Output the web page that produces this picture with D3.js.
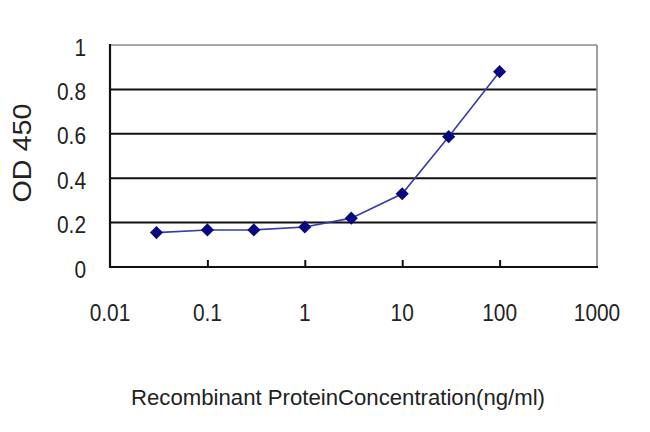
<!DOCTYPE html>
<html><head><meta charset="utf-8">
<script src="https://cdn.jsdelivr.net/npm/d3@7"></script>
<style>body{margin:0;background:#fff;} svg{display:block;font-family:Arial,"Liberation Sans",sans-serif;}</style>
</head><body>
<svg id="c" width="650" height="432"></svg>
<script>
const concentrations = [0.03, 0.1, 0.3, 1, 3, 10, 30, 100];
const odValues = [0.155, 0.167, 0.167, 0.18, 0.22, 0.33, 0.587, 0.88];
const xTicks = [0.01, 0.1, 1, 10, 100, 1000];
const xTickLabels = ["0.01", "0.1", "1", "10", "100", "1000"];
const yTicks = [0, 0.2, 0.4, 0.6, 0.8, 1];
const yTickLabels = ["0", "0.2", "0.4", "0.6", "0.8", "1"];
const xTitle = "Recombinant ProteinConcentration(ng/ml)";
const yTitle = "OD 450";

const svg = d3.select("#c");
const L = 110, R = 597, T = 45, B = 267;
const x = d3.scaleLog().domain([0.01, 1000]).range([L, R]);
const y = d3.scaleLinear().domain([0, 1]).range([B, T]);

// gridlines
svg.append("g").selectAll("line").data(yTicks.filter(v => v > 0 && v < 1)).join("line")
  .attr("x1", L).attr("x2", R).attr("y1", d => y(d)).attr("y2", d => y(d))
  .attr("stroke", "#111").attr("stroke-width", 2);

// top & right border
svg.append("line").attr("x1", L).attr("x2", R).attr("y1", y(1)).attr("y2", y(1)).attr("stroke", "#8a8a8a").attr("stroke-width", 1.6);
svg.append("line").attr("x1", R).attr("x2", R).attr("y1", T).attr("y2", B).attr("stroke", "#8a8a8a").attr("stroke-width", 1.6);

// axes
const xAxis = d3.axisBottom(x).tickValues(xTicks.slice(1, -1)).tickSize(-7).tickFormat("");
const gx = svg.append("g").attr("transform", `translate(0,${B})`).call(xAxis);
gx.select(".domain").remove();
gx.selectAll("line").attr("stroke", "#111").attr("stroke-width", 2);
svg.append("line").attr("x1", L).attr("x2", R + 1).attr("y1", B).attr("y2", B).attr("stroke", "#111").attr("stroke-width", 2.2);
svg.append("line").attr("x1", L).attr("x2", L).attr("y1", T - 1).attr("y2", B + 1).attr("stroke", "#111").attr("stroke-width", 2.2);

// x tick labels
svg.append("g").selectAll("text").data(xTicks).join("text")
  .attr("transform", d => `translate(${x(d)},321) scale(0.95,1.12)`)
  .attr("text-anchor", "middle").attr("font-size", 22).attr("fill", "#222")
  .text((d, i) => xTickLabels[i]);

// y tick labels
svg.append("g").selectAll("text").data(yTicks).join("text")
  .attr("transform", d => `translate(86,${y(d) + 2}) scale(0.95,1.12)`).attr("dy", "0.35em")
  .attr("text-anchor", "end").attr("font-size", 22).attr("fill", "#222")
  .text((d, i) => yTickLabels[i]);

// titles
svg.append("text").attr("transform", "translate(338,405) scale(1,1.1)").attr("text-anchor", "middle")
  .attr("font-size", 20).attr("fill", "#222")
  .attr("textLength", 414).attr("lengthAdjust", "spacingAndGlyphs").text(xTitle);
svg.append("text").attr("transform", "translate(31,153) rotate(-90)").attr("text-anchor", "middle")
  .attr("font-size", 26).attr("fill", "#222")
  .attr("textLength", 99).attr("lengthAdjust", "spacingAndGlyphs").text(yTitle);

// series line
const pts = concentrations.map((c, i) => [c, odValues[i]]);
svg.append("path").datum(pts)
  .attr("d", d3.line().x(d => x(d[0])).y(d => y(d[1])))
  .attr("fill", "none").attr("stroke", "#3a3aa8").attr("stroke-width", 1.6);

// markers
svg.append("g").selectAll("path").data(pts).join("path")
  .attr("transform", d => `translate(${x(d[0])},${y(d[1])})`)
  .attr("d", d3.symbol(d3.symbolDiamond2, 110)())
  .attr("fill", "#0a0a80");
</script>
</body></html>
